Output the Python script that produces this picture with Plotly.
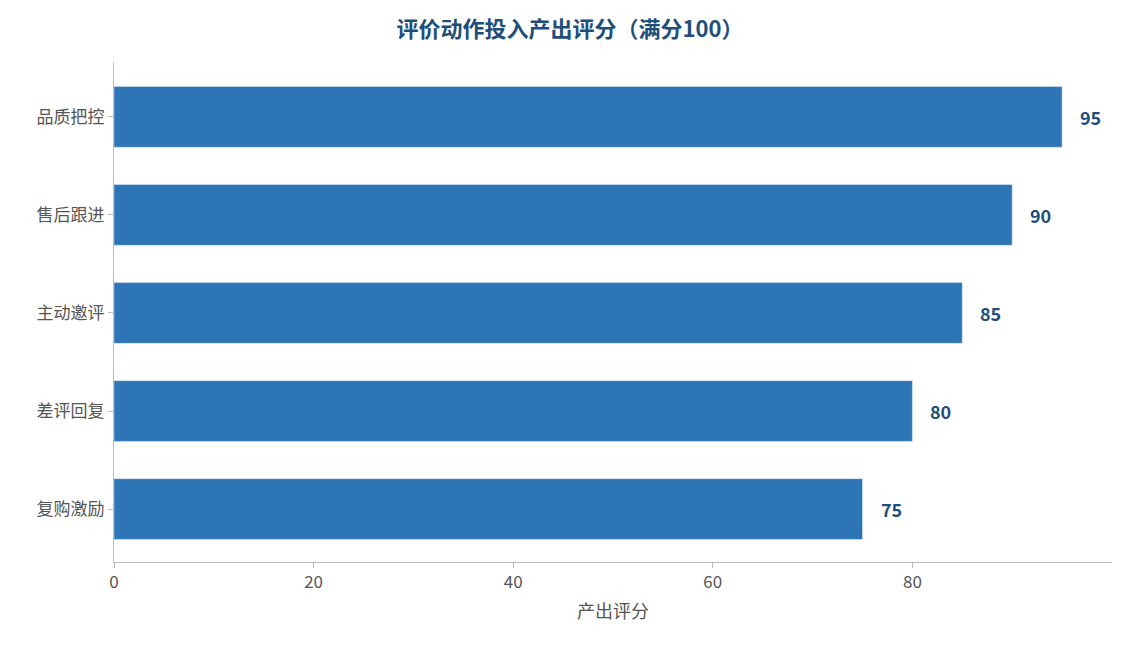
import plotly.graph_objects as go

categories = ["品质把控", "售后跟进", "主动邀评", "差评回复", "复购激励"]
scores = [95, 90, 85, 80, 75]

font = "Microsoft YaHei, Noto Sans CJK SC, sans-serif"
fig = go.Figure(go.Bar(
    x=scores, y=categories, orientation="h",
    marker=dict(color="#2E75B6"), width=0.62,
))
for c, v in zip(categories, scores):
    fig.add_annotation(x=v, y=c, text=f"<b>{v}</b>", showarrow=False,
                       xanchor="left", xshift=16,
                       font=dict(size=18, color="#1F4E79", family=font))
fig.update_layout(
    width=1124, height=645,
    margin=dict(l=106, r=20, t=54, b=91),
    plot_bgcolor="white", paper_bgcolor="white",
    title=dict(text="<b>评价动作投入产出评分（满分100）</b>", x=0.5, xanchor="center",
               y=1 - 21 / 645, yanchor="middle",
               font=dict(size=22, color="#1F4E79", family=font)),
    showlegend=False,
    font=dict(family=font, color="#555555", size=17),
)
fig.update_xaxes(range=[0, 100], tickvals=[0, 20, 40, 60, 80], showgrid=False,
                 showline=True, linecolor="#BBBBBB", ticks="outside", tickcolor="#BBBBBB",
                 ticklen=5, zeroline=False,
                 title=dict(text="产出评分", font=dict(size=18, color="#555555"), standoff=12))
fig.update_yaxes(autorange=False, range=[4.54, -0.56], showgrid=False,
                 showline=True, linecolor="#BBBBBB", ticks="outside", tickcolor="#BBBBBB",
                 ticklen=5)
fig.write_html("out.html")
